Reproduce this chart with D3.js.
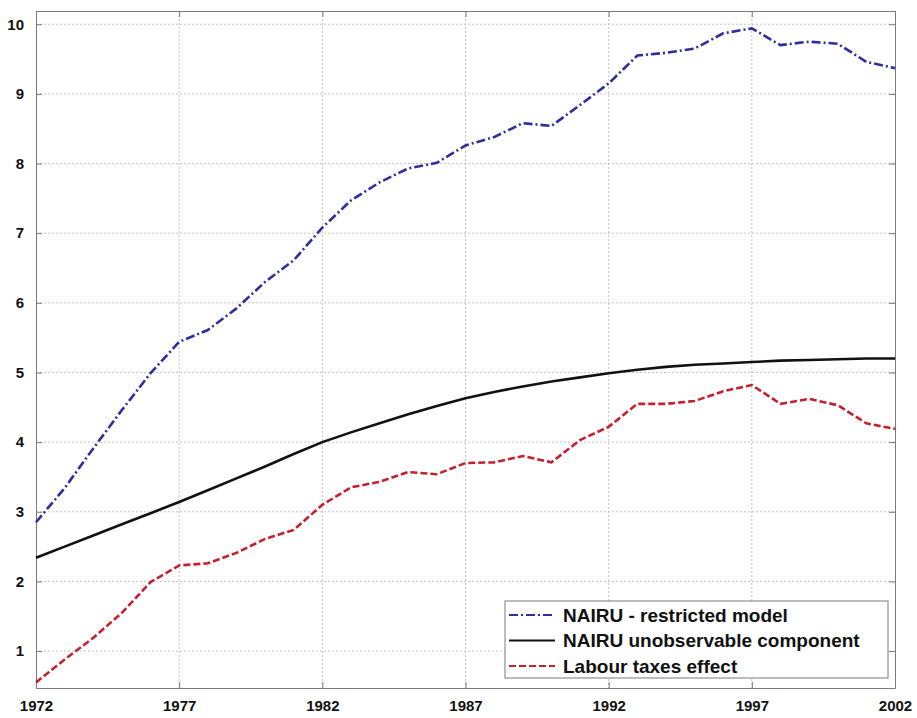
<!DOCTYPE html>
<html>
<head>
<meta charset="utf-8">
<script src="https://cdn.jsdelivr.net/npm/d3@7"></script>
<style>
body { margin: 0; background: #fff; }
svg { display: block; }
.tick text { font-family: "Liberation Sans", Arial, sans-serif; font-weight: bold; font-size: 15px; fill: #111; }
</style>
</head>
<body>
<div id="chart"></div>
<script>
var years = [1972,1973,1974,1975,1976,1977,1978,1979,1980,1981,1982,1983,1984,1985,1986,1987,
             1988,1989,1990,1991,1992,1993,1994,1995,1996,1997,1998,1999,2000,2001,2002];

// NAIRU - restricted model
var nairuRestricted = [2.85,3.34,3.91,4.46,4.99,5.44,5.61,5.92,6.30,6.61,7.08,7.47,7.73,7.93,8.01,8.26,
                       8.38,8.58,8.54,8.84,9.15,9.55,9.59,9.65,9.87,9.94,9.70,9.75,9.72,9.46,9.37];

// NAIRU unobservable component
var nairuUnobs = [2.34,2.50,2.66,2.82,2.98,3.14,3.31,3.48,3.65,3.83,4.00,4.14,4.27,4.40,4.52,4.63,
                  4.72,4.80,4.87,4.93,4.99,5.04,5.08,5.11,5.13,5.15,5.17,5.18,5.19,5.20,5.20];

// Labour taxes effect
var labourTaxes = [0.55,0.88,1.19,1.55,1.99,2.23,2.26,2.41,2.61,2.74,3.10,3.35,3.43,3.57,3.54,3.70,
                   3.71,3.80,3.71,4.03,4.22,4.55,4.55,4.59,4.73,4.82,4.55,4.62,4.53,4.27,4.19];

var xTicks = [1972,1977,1982,1987,1992,1997,2002];
var yTicks = [1,2,3,4,5,6,7,8,9,10];

var seriesNames = ["NAIRU - restricted model","NAIRU unobservable component","Labour taxes effect"];

var W = 917, H = 718;
var pLeft = 36, pRight = 895, pTop = 11, pBottom = 688;

var svg = d3.select("#chart").append("svg")
  .attr("width", W)
  .attr("height", H);

var x = d3.scaleLinear().domain([1972, 2002]).range([pLeft, pRight]);
var y = d3.scaleLinear().domain([0.47, 10.19]).range([pBottom, pTop]);

// grid
svg.append("g").selectAll("line")
  .data(xTicks.slice(1, -1))
  .enter().append("line")
    .attr("x1", function(d) { return x(d); })
    .attr("x2", function(d) { return x(d); })
    .attr("y1", pTop)
    .attr("y2", pBottom)
    .attr("stroke", "#c4c4c4")
    .attr("stroke-dasharray", "2,2");

svg.append("g").selectAll("line")
  .data(yTicks)
  .enter().append("line")
    .attr("x1", pLeft)
    .attr("x2", pRight)
    .attr("y1", function(d) { return y(d); })
    .attr("y2", function(d) { return y(d); })
    .attr("stroke", "#c4c4c4")
    .attr("stroke-dasharray", "2,2");

// axes (ticks pointing inward, MATLAB style)
function styleAxis(g) {
  g.select(".domain").attr("stroke", "#7a7a7a");
  g.selectAll(".tick line").attr("stroke", "#7a7a7a");
}

svg.append("g")
  .attr("transform", "translate(0," + pBottom + ")")
  .call(d3.axisBottom(x).tickValues(xTicks).tickFormat(d3.format("d")).tickSizeInner(-6).tickSizeOuter(0).tickPadding(12))
  .call(styleAxis);

svg.append("g")
  .attr("transform", "translate(0," + pTop + ")")
  .call(d3.axisTop(x).tickValues(xTicks).tickFormat("").tickSizeInner(-6).tickSizeOuter(0))
  .call(styleAxis);

svg.append("g")
  .attr("transform", "translate(" + pLeft + ",0)")
  .call(d3.axisLeft(y).tickValues(yTicks).tickFormat(d3.format("d")).tickSizeInner(-6).tickSizeOuter(0).tickPadding(12))
  .call(styleAxis);

svg.append("g")
  .attr("transform", "translate(" + pRight + ",0)")
  .call(d3.axisRight(y).tickValues(yTicks).tickFormat("").tickSizeInner(-6).tickSizeOuter(0))
  .call(styleAxis);

// lines
var series = [
  { name: seriesNames[0], values: nairuRestricted, color: "#2e2e9e", dash: "9,3,2,3", width: 2.6 },
  { name: seriesNames[1], values: nairuUnobs, color: "#111111", dash: null, width: 2.6 },
  { name: seriesNames[2], values: labourTaxes, color: "#c4202e", dash: "7,3", width: 2.6 }
];

var line = d3.line()
  .x(function(d, i) { return x(years[i]); })
  .y(function(d) { return y(d); });

svg.append("g").selectAll("path")
  .data(series)
  .enter().append("path")
    .attr("d", function(s) { return line(s.values); })
    .attr("fill", "none")
    .attr("stroke", function(s) { return s.color; })
    .attr("stroke-width", function(s) { return s.width; })
    .attr("stroke-dasharray", function(s) { return s.dash; });

// legend
var legend = svg.append("g").attr("transform", "translate(505,601)");
legend.append("rect")
  .attr("width", 383)
  .attr("height", 77)
  .attr("fill", "#fff")
  .attr("stroke", "#7a7a7a");

var item = legend.selectAll(".item")
  .data(series)
  .enter().append("g")
    .attr("transform", function(d, i) { return "translate(0," + (14 + i * 25.5) + ")"; });

item.append("line")
  .attr("x1", 4)
  .attr("x2", 50)
  .attr("stroke", function(s) { return s.color; })
  .attr("stroke-width", 2.2)
  .attr("stroke-dasharray", function(s) { return s.dash; });

item.append("text")
  .attr("x", 58)
  .attr("dy", "0.36em")
  .style("font-family", "Liberation Sans, Arial, sans-serif")
  .style("font-weight", "bold")
  .style("font-size", "19px")
  .style("fill", "#111")
  .text(function(s) { return s.name; });
</script>
</body>
</html>
